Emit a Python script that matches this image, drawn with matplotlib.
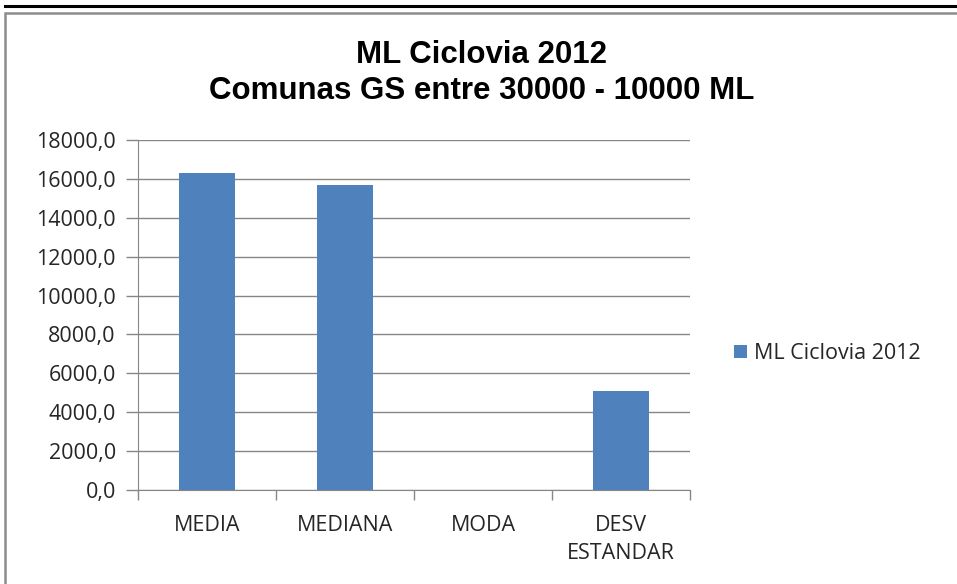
import numpy as np
import matplotlib.pyplot as plt
from matplotlib.patches import Rectangle
from matplotlib.lines import Line2D

# data
categories = ['MEDIA', 'MEDIANA', 'MODA', 'DESV\nESTANDAR']
values = [16300, 15700, 0, 5100]
series_name = 'ML Ciclovia 2012'
title_lines = ['ML Ciclovia 2012', 'Comunas GS entre 30000 - 10000 ML']
yticks = np.arange(0, 18001, 2000)

bar_color = '#4F81BD'
grid_color = '#868686'
text_color = '#262626'
tick_font = 'Open Sans'
fs = 15.5
W, H = 957, 584

fig = plt.figure(figsize=(W / 100, H / 100), dpi=100)

# outer decorations: black rule at top and the chart frame
fig.add_artist(Line2D([5 / W, 1], [1 - 6 / H, 1 - 6 / H], color='black', lw=2.2,
                      transform=fig.transFigure))
fig.add_artist(Rectangle((5 / W, -0.05), 1.1, 1 - 13 / H + 0.05, transform=fig.transFigure,
                         fill=False, edgecolor='#8c8c8c', lw=1.8))

ax = fig.add_axes([138 / W, 1 - 490 / H, (690 - 138) / W, 350 / H])
x = np.arange(len(categories))
ax.bar(x, values, width=0.4, color=bar_color, label=series_name, zorder=3)

ax.set_xlim(-0.5, len(categories) - 0.5)
ax.set_ylim(0, 18000)
ax.set_yticks(yticks)
ax.set_yticklabels([f'{v:.1f}'.replace('.', ',') for v in yticks],
                   fontsize=fs, color=text_color, family=tick_font)
ax.yaxis.grid(True, color=grid_color, lw=1.0, zorder=0)
ax.tick_params(axis='y', length=9, width=1.0, color=grid_color, pad=7)

# x ticks at category boundaries, labels centered
ax.set_xticks(np.arange(-0.5, len(categories), 1.0))
ax.set_xticklabels([])
ax.set_xticks(x, minor=True)
ax.set_xticklabels(categories, minor=True, fontsize=fs, color=text_color,
                   family=tick_font, linespacing=1.45)
ax.tick_params(axis='x', which='minor', length=0, pad=18)
ax.tick_params(axis='x', which='major', length=7, width=1.0, color=grid_color)

for s in ['top', 'right']:
    ax.spines[s].set_visible(False)
ax.spines['left'].set_color(grid_color)
ax.spines['bottom'].set_color(grid_color)

# two title lines placed by baseline
for line, base in zip(title_lines, [63, 99]):
    fig.text(482 / W, 1 - base / H, line, ha='center', va='baseline', fontsize=22.5,
             fontweight='bold', family='Liberation Sans', color='black')

leg = ax.legend(loc='center left', bbox_to_anchor=(1.045, 0.39), frameon=False,
                prop={'family': tick_font, 'size': fs}, handlelength=0.6,
                handleheight=0.6, handletextpad=0.3)
for t in leg.get_texts():
    t.set_color(text_color)

fig.savefig('out.png', dpi=100)
